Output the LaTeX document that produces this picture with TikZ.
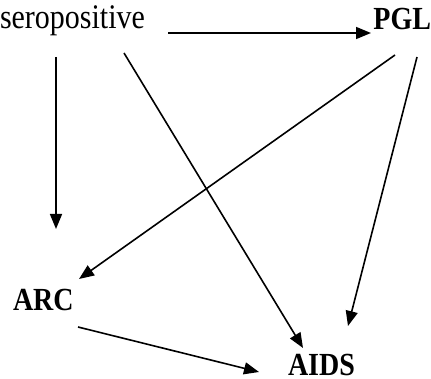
\documentclass[tikz,border=0pt]{standalone}
\usepackage{fontspec}
\setmainfont{Liberation Serif}
\usetikzlibrary{arrows.meta}
\newcommand{\vstretch}[1]{\scalebox{1}[1.15]{#1}}
\begin{document}
\begin{tikzpicture}[x=1pt,y=-1pt,
  lbl/.style={inner sep=0pt,outer sep=0pt},
  plain/.style={lbl,font=\fontsize{30}{34}\selectfont},
  boldlbl/.style={lbl,font=\fontsize{28}{32}\selectfont\bfseries},
  conn/.style={line width=1.6pt,-{Triangle[length=15pt,width=12pt]}}]
\useasboundingbox (0,0) rectangle (431,379);
\node[plain,anchor=base west] (sero) at (0,29) {\vstretch{seropositive}};
\node[boldlbl,anchor=base east] (pgl) at (431,30) {\vstretch{PGL}};
\node[boldlbl,anchor=base west] (arc) at (13,310) {\vstretch{ARC}};
\node[boldlbl,anchor=base west] (aids) at (288,375) {\vstretch{AIDS}};
% connector ends
\coordinate (s1) at (168,33);  \coordinate (p1) at (371,33);
\coordinate (s2) at (56,57);   \coordinate (a2) at (56,229);
\coordinate (s3) at (124,53);  \coordinate (d3) at (303,348);
\coordinate (p4) at (395,55);  \coordinate (a4) at (79,279);
\coordinate (p5) at (417,57);  \coordinate (d5) at (348,326);
\coordinate (a6) at (78,327);  \coordinate (d6) at (259,372);
\draw[conn] (s1) -- (p1);
\draw[conn] (s2) -- (a2);
\draw[conn] (s3) -- (d3);
\draw[conn] (p4) -- (a4);
\draw[conn] (p5) -- (d5);
\draw[conn] (a6) -- (d6);
\end{tikzpicture}
\end{document}
